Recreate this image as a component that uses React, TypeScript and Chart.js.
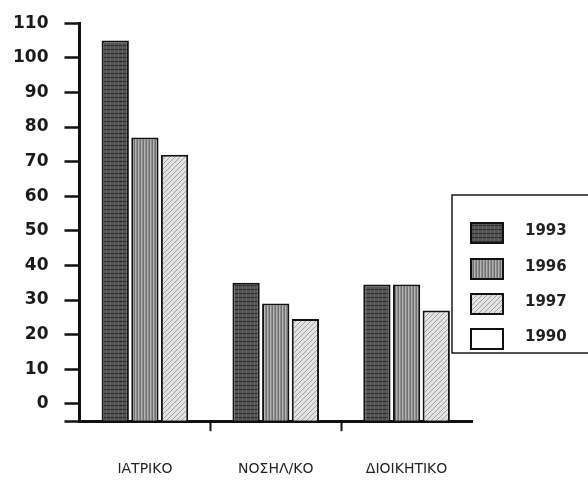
import React, { useEffect, useRef } from "react";
import { Chart, registerables } from "chart.js";

Chart.register(...registerables);

const categories = ["ΙΑΤΡΙΚΟ", "ΝΟΣΗΛ/ΚΟ", "ΔΙΟΙΚΗΤΙΚΟ"];
const seriesLabels = ["1993", "1996", "1997", "1990"];
const values1993 = [105, 35, 34.5];
const values1996 = [77, 29, 34.5];
const values1997 = [72, 24.5, 27];
const values1990: (number | null)[] = [null, null, null];
const yMin = -5;
const yMax = 110;
const yTickValues = [-5, 0, 10, 20, 30, 40, 50, 60, 70, 80, 90, 100, 110];

const CANVAS_SHIFT = 3;

function makePattern(kind: string): CanvasPattern | string {
  const c = document.createElement("canvas");
  const g = c.getContext("2d");
  if (!g) return "#888";
  if (kind === "dark") {
    c.width = 4; c.height = 4;
    g.fillStyle = "#4e4e4e"; g.fillRect(0, 0, 4, 4);
    g.fillStyle = "#333333"; g.fillRect(0, 0, 4, 1);
    g.fillStyle = "#6c6c6c"; g.fillRect(2, 1, 1, 3);
    g.fillStyle = "#5e5e5e"; g.fillRect(0, 2, 1, 1);
  } else if (kind === "mid") {
    c.width = 3; c.height = 3;
    g.fillStyle = "#8e8e8e"; g.fillRect(0, 0, 3, 3);
    g.fillStyle = "#b4b4b4"; g.fillRect(0, 0, 1, 3);
    g.fillStyle = "#707070"; g.fillRect(2, 0, 1, 3);
  } else if (kind === "light") {
    c.width = 5; c.height = 5;
    g.fillStyle = "#e2e2e2"; g.fillRect(0, 0, 5, 5);
    g.fillStyle = "#a2a2a2";
    for (let i = 0; i < 5; i++) g.fillRect(i, 4 - i, 1, 1);
  } else {
    return "#ffffff";
  }
  const p = g.createPattern(c, "repeat");
  return p || "#888";
}

const legendBoxPlugin = {
  id: "legendBox",
  afterDraw(chart: any) {
    const ctx = chart.ctx;
    ctx.save();
    const bx = 452, by = 195 + CANVAS_SHIFT, bw = 150, bh = 158;
    ctx.fillStyle = "#ffffff";
    ctx.fillRect(bx, by, bw, bh);
    ctx.strokeStyle = "#1a1a1a";
    ctx.lineWidth = 1.5;
    ctx.strokeRect(bx, by, bw, bh);
    const rows = [233, 269, 304, 339];
    chart.data.datasets.forEach((ds: any, i: number) => {
      const cy = rows[i] + CANVAS_SHIFT;
      const sx = 471, sw = 32, sh = 20;
      ctx.fillStyle = ds.backgroundColor;
      ctx.fillRect(sx, cy - sh / 2, sw, sh);
      ctx.strokeStyle = "#111";
      ctx.lineWidth = 2;
      ctx.strokeRect(sx, cy - sh / 2, sw, sh);
      ctx.fillStyle = "#222";
      ctx.font = "bold 15px 'DejaVu Sans'";
      ctx.textAlign = "left";
      ctx.textBaseline = "middle";
      ctx.fillText(ds.label, 525, cy - 2);
    });
    ctx.restore();
  },
};

export default function App() {
  const ref = useRef<HTMLCanvasElement | null>(null);
  useEffect(() => {
    if (!ref.current) return;
    const fills = [makePattern("dark"), makePattern("mid"), makePattern("light"), makePattern("none")];
    const seriesValues = [values1993, values1996, values1997, values1990];
    const chart = new Chart(ref.current, {
      type: "bar",
      data: {
        labels: categories,
        datasets: seriesLabels.map((lab, i) => ({
          label: lab,
          data: seriesValues[i],
          backgroundColor: fills[i] as any,
          borderColor: "#111111",
          borderWidth: 2,
          base: yMin,
        })),
      },
      options: {
        animation: false,
        responsive: false,
        skipNull: true,
        datasets: { bar: { categoryPercentage: 0.68, barPercentage: 0.92 } },
        layout: { padding: { left: -3, top: 11, right: 116, bottom: -24 } },
        plugins: { legend: { display: false }, tooltip: { enabled: false } },
        scales: {
          x: {
            grid: {
              display: true,
              offset: true,
              drawOnChartArea: false,
              drawTicks: true,
              tickLength: 10,
              tickWidth: 2,
              tickColor: (ctx: any) => (ctx.index === 1 || ctx.index === 2 ? "#111" : "rgba(0,0,0,0)"),
            },
            border: { display: true, color: "#111", width: 3 },
            ticks: { padding: 30, color: "#222", maxRotation: 0, font: { family: "'DejaVu Sans'", size: 14 } },
          },
          y: {
            min: yMin,
            max: yMax,
            afterBuildTicks: (scale: any) => {
              scale.ticks = yTickValues.map((v) => ({ value: v }));
            },
            grid: {
              display: true,
              drawOnChartArea: false,
              drawTicks: true,
              tickLength: 15,
              tickWidth: 2.5,
              tickColor: "#111",
            },
            border: { display: true, color: "#111", width: 3 },
            ticks: {
              autoSkip: false,
              padding: 16,
              color: "#1a1a1a",
              font: { family: "'DejaVu Sans'", size: 17, weight: "bold" },
              callback: (v: any) => (Number(v) < 0 ? "" : String(v)),
            },
          },
        },
      } as any,
      plugins: [legendBoxPlugin],
    });
    return () => chart.destroy();
  }, []);
  return (
    <div style={{ position: "absolute", left: 0, top: 0, width: 588, height: 480, background: "#fff", overflow: "hidden" }}>
      <canvas
        ref={ref}
        width={588}
        height={487}
        style={{ display: "block", position: "absolute", left: 0, top: -CANVAS_SHIFT }}
      />
    </div>
  );
}
